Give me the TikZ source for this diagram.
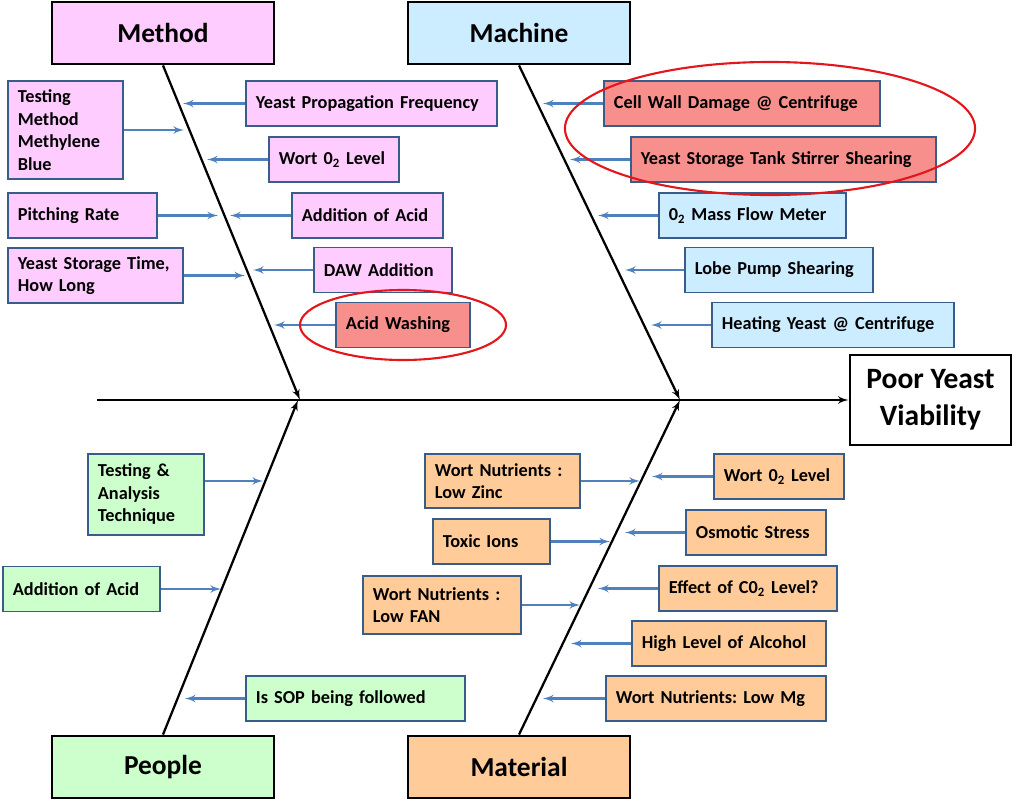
\documentclass[tikz,border=0pt]{standalone}
\usepackage{xcolor}
\usepackage{fontspec}
\setmainfont{Carlito}
\frenchspacing
\usepackage{tikz}
\usetikzlibrary{shapes.geometric, arrows, positioning, calc}

\definecolor{methodfill}{HTML}{FFCCFF}
\definecolor{machinefill}{HTML}{CCECFF}
\definecolor{peoplefill}{HTML}{CCFFCC}
\definecolor{materialfill}{HTML}{FFCC99}
\definecolor{hotfill}{HTML}{F78F8C}
\definecolor{edgeblue}{HTML}{385D8A}
\definecolor{arrowblue}{HTML}{4F81BD}
\definecolor{ringred}{HTML}{E3161B}

\begin{document}
\begin{tikzpicture}[x=0.025cm, y=-0.025cm, >=latex']
        \tikzstyle{head_style} = [rectangle, minimum width=5.55cm, minimum height=1.55cm, text centered, draw=black, line width=2pt, font=\fontsize{19.5}{23}\selectfont\bfseries]
        \tikzstyle{effect_style} = [rectangle, minimum width=4.025cm, minimum height=2.25cm, align=center, draw=black, line width=2pt, fill=white, font=\fontsize{21}{26}\selectfont\bfseries]
        \tikzstyle{cause_style} = [rectangle, anchor=west, align=left, inner xsep=0.25cm, inner ysep=0pt, minimum height=1.125cm, draw=edgeblue, line width=1.3pt, font=\fontsize{13}{16}\selectfont\bfseries]
        \tikzstyle{bone_style} = [line width=1.6pt, ->, >=latex']
        \tikzstyle{cause_arrow} = [line width=1.6pt, ->, >=latex', draw=arrowblue]
        \tikzstyle{ring_style} = [ellipse, draw=ringred, line width=1.5pt]

        \useasboundingbox (0,0) rectangle (1024,801);

        % Heads and effect
        \node (method) [head_style, fill=methodfill] at (163,33) {Method};
        \node (machine) [head_style, fill=machinefill] at (519,33) {Machine};
        \node (people) [head_style, fill=peoplefill] at (163,767) {People};
        \node (material) [head_style, fill=materialfill] at (519,767) {Material};
        \node (effect) [effect_style] at (930.5,400) {Poor Yeast\\Viability};

        % Spine and bones
        \coordinate (tail) at (97,400);
        \coordinate (top1) at (300,400);
        \coordinate (top2) at (680,400);
        \coordinate (bot1) at (298,400);
        \coordinate (bot2) at (680,400);
        \draw [bone_style] (tail) -- (effect.west);
        \draw [bone_style] (method.south) -- (top1);
        \draw [bone_style] (machine.south) -- (top2);
        \draw [bone_style] (people.north) -- (bot1);
        \draw [bone_style] (material.north) -- (bot2);

        % Method causes
        \node (me1) [cause_style, fill=methodfill, text width=2.375cm, minimum height=2.45cm] at (7,130) {Testing\\Method\\Methylene\\Blue};
        \node (me2) [cause_style, fill=methodfill, text width=5.775cm] at (245,103.5) {Yeast Propagation Frequency};
        \node (me3) [cause_style, fill=methodfill, text width=2.75cm] at (268,159.5) {Wort 0\textsubscript{2} Level};
        \node (me4) [cause_style, fill=methodfill, text width=3.225cm] at (7,215.5) {Pitching Rate};
        \node (me5) [cause_style, fill=methodfill, text width=3.275cm] at (291,215.5) {Addition of Acid};
        \node (me6) [cause_style, fill=methodfill, text width=3.875cm, minimum height=1.375cm] at (7,275.5) {Yeast Storage Time,\\How Long};
        \node (me7) [cause_style, fill=methodfill, text width=2.95cm] at (313,270) {DAW Addition};
        \node (me8) [cause_style, fill=hotfill, text width=2.85cm] at (335,325) {Acid Washing};

        % Machine causes
        \node (ma1) [cause_style, fill=hotfill, text width=6.4cm] at (603,103.5) {Cell Wall Damage @ Centrifuge};
        \node (ma2) [cause_style, fill=hotfill, text width=7.125cm] at (630,159.5) {Yeast Storage Tank Stirrer Shearing};
        \node (ma3) [cause_style, fill=machinefill, text width=4.175cm] at (658,215.5) {0\textsubscript{2} Mass Flow Meter};
        \node (ma4) [cause_style, fill=machinefill, text width=4.2cm] at (684,270) {Lobe Pump Shearing};
        \node (ma5) [cause_style, fill=machinefill, text width=5.55cm] at (711,325) {Heating Yeast @ Centrifuge};

        % People causes
        \node (pe1) [cause_style, fill=peoplefill, text width=2.4cm, minimum height=2.025cm] at (87,494.5) {Testing \&\\Analysis\\Technique};
        \node (pe2) [cause_style, fill=peoplefill, text width=3.425cm] at (2,589) {Addition of Acid};
        \node (pe3) [cause_style, fill=peoplefill, text width=4.975cm] at (245,698.5) {Is SOP being followed};

        % Material causes
        \node (mt1) [cause_style, fill=materialfill, text width=3.375cm, minimum height=1.35cm] at (424,481) {Wort Nutrients :\\Low Zinc};
        \node (mt2) [cause_style, fill=materialfill, text width=2.425cm] at (432,541.5) {Toxic Ions};
        \node (mt3) [cause_style, fill=materialfill, text width=3.45cm, minimum height=1.45cm] at (362,605) {Wort Nutrients :\\Low FAN};
        \node (mt4) [cause_style, fill=materialfill, text width=2.75cm] at (713,476.5) {Wort 0\textsubscript{2} Level};
        \node (mt5) [cause_style, fill=materialfill, text width=3.0cm] at (685,532.5) {Osmotic Stress};
        \node (mt6) [cause_style, fill=materialfill, text width=3.95cm] at (658,588.5) {Effect of C0\textsubscript{2} Level?};
        \node (mt7) [cause_style, fill=materialfill, text width=4.35cm] at (631,643.5) {High Level of Alcohol};
        \node (mt8) [cause_style, fill=materialfill, text width=5.0cm] at (605,698.5) {Wort Nutrients: Low Mg};

        % Arrow tips on the bones
        \coordinate (me1t) at (184,130);
        \coordinate (me2t) at (183,103.5);
        \coordinate (me3t) at (207,159.5);
        \coordinate (me4t) at (218,215.5);
        \coordinate (me5t) at (230,215.5);
        \coordinate (me6t) at (245,275.5);
        \coordinate (me7t) at (253,270);
        \coordinate (me8t) at (274,325);
        \coordinate (ma1t) at (543,103.5);
        \coordinate (ma2t) at (570,159.5);
        \coordinate (ma3t) at (598,215.5);
        \coordinate (ma4t) at (625,270);
        \coordinate (ma5t) at (651,325);
        \coordinate (pe1t) at (263,481);
        \coordinate (pe2t) at (221,589);
        \coordinate (pe3t) at (185,698.5);
        \coordinate (mt1t) at (640,481);
        \coordinate (mt2t) at (610,541.5);
        \coordinate (mt3t) at (580,605);
        \coordinate (mt4t) at (652,476.5);
        \coordinate (mt5t) at (625,532.5);
        \coordinate (mt6t) at (598,588.5);
        \coordinate (mt7t) at (571,643.5);
        \coordinate (mt8t) at (543,698.5);

        % Arrows: causes to bones
        \draw [cause_arrow] (me1.east) -- (me1t);
        \draw [cause_arrow] (me2.west) -- (me2t);
        \draw [cause_arrow] (me3.west) -- (me3t);
        \draw [cause_arrow] (me4.east) -- (me4t);
        \draw [cause_arrow] (me5.west) -- (me5t);
        \draw [cause_arrow] (me6.east) -- (me6t);
        \draw [cause_arrow] (me7.west) -- (me7t);
        \draw [cause_arrow] (me8.west) -- (me8t);
        \draw [cause_arrow] (ma1.west) -- (ma1t);
        \draw [cause_arrow] (ma2.west) -- (ma2t);
        \draw [cause_arrow] (ma3.west) -- (ma3t);
        \draw [cause_arrow] (ma4.west) -- (ma4t);
        \draw [cause_arrow] (ma5.west) -- (ma5t);
        \draw [cause_arrow] (pe1.east |- pe1t) -- (pe1t);
        \draw [cause_arrow] (pe2.east) -- (pe2t);
        \draw [cause_arrow] (pe3.west) -- (pe3t);
        \draw [cause_arrow] (mt1.east) -- (mt1t);
        \draw [cause_arrow] (mt2.east) -- (mt2t);
        \draw [cause_arrow] (mt3.east) -- (mt3t);
        \draw [cause_arrow] (mt4.west) -- (mt4t);
        \draw [cause_arrow] (mt5.west) -- (mt5t);
        \draw [cause_arrow] (mt6.west) -- (mt6t);
        \draw [cause_arrow] (mt7.west) -- (mt7t);
        \draw [cause_arrow] (mt8.west) -- (mt8t);

        % Highlight rings
        \node (ring1) [ring_style, minimum width=5.15cm, minimum height=1.75cm] at (403,325) {};
        \node (ring2) [ring_style, minimum width=10.25cm, minimum height=3.325cm] at (770,128.5) {};
    \end{tikzpicture}
\end{document}
